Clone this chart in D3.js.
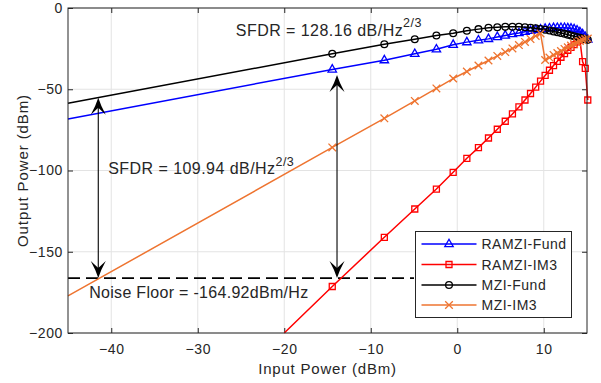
<!DOCTYPE html>
<html>
<head>
<meta charset="utf-8">
<script src="https://cdn.jsdelivr.net/npm/d3@7"></script>
<style>
  html, body { margin: 0; padding: 0; background: #ffffff; }
  svg { display: block; }
  text { font-family: "Liberation Sans", Arial, Helvetica, sans-serif; fill: #262626; }
</style>
</head>
<body>
<svg id="chart" width="601" height="383"></svg>
<script>
// ---------------- data ----------------
const xTicks = [-40, -30, -20, -10, 0, 10];
const yTicks = [0, -50, -100, -150, -200];
const xDomain = [-45, 15];
const yDomain = [-200, 0];

// input power samples where markers are drawn (dBm)
const inputPower = [-14.45, -8.43, -4.91, -2.41, -0.47, 1.11, 2.45, 3.61, 4.63, 5.55,
  6.38, 7.13, 7.83, 8.47, 9.07, 9.63, 10.16, 10.66, 11.13, 11.57,
  11.99, 12.40, 12.78, 13.15, 13.51, 13.85, 14.18, 14.49, 14.80, 15.09];

const ramziFund = [-37.8, -32.1, -28.2, -25.4, -22.6, -21.0, -19.9, -19.0, -17.8, -16.9,
  -16.0, -15.4, -14.6, -14.0, -13.5, -13.1, -12.7, -12.5, -12.3, -12.2,
  -12.2, -12.2, -12.4, -12.6, -13.0, -13.7, -14.8, -16.1, -17.7, -19.4];

const ramziIM3 = [-171.4, -141.1, -123.7, -111.4, -101.1, -92.5, -85.9, -80.0, -74.6, -69.7,
  -65.2, -60.9, -56.6, -52.6, -48.7, -45.0, -41.5, -38.3, -35.4, -32.8,
  -30.3, -28.1, -26.0, -24.2, -22.5, -20.9, -19.7, -33.0, -37.1, -56.6];

const mziFund = [-28.2, -22.3, -19.2, -16.9, -15.5, -14.0, -13.0, -12.2, -11.8, -11.6,
  -11.5, -11.6, -11.8, -12.1, -12.5, -12.9, -13.4, -13.9, -14.4, -14.9,
  -15.4, -15.9, -16.4, -16.9, -17.4, -17.8, -18.3, -18.8, -19.2, -19.6];

const mziIM3 = [-85.8, -67.9, -57.2, -49.5, -43.4, -39.1, -35.4, -32.3, -29.5, -27.1,
  -24.9, -22.8, -20.9, -19.1, -17.2, -15.7, -32.0, -30.5, -28.9, -27.7,
  -26.5, -25.2, -24.2, -23.1, -22.2, -21.2, -20.3, -19.7, -19.1, -18.8];

// first point of each line (drawn without marker)
const seriesNames = ["RAMZI-Fund", "RAMZI-IM3", "MZI-Fund", "MZI-IM3"];
const seriesColors = ["#0000ff", "#ff0000", "#000000", "#ee7430"];
const seriesMarkers = ["triangle", "square", "circle", "cross"];
const lineStartX = [-45, -20, -45, -45];
const lineStartY = [-68.3, -200, -58.6, -177.2];

// annotations
const noiseFloor = -166.2;
const noiseFloorExtent = [-45, -5];
const arrowX = [-41.5, -13.9];
const arrowTopY = [-55.2, -41.2];
const sfdrLabels = ["SFDR = 109.94 dB/Hz", "SFDR = 128.16 dB/Hz"];
const sfdrLabelX = [-40.35, -25.6];
const sfdrLabelY = [-102.3, -17.0];
const noiseLabel = "Noise Floor = -164.92dBm/Hz";
const noiseLabelPos = [-42.55, -178.6];

// ---------------- drawing ----------------
const svg = d3.select("#chart");
svg.append("rect").attr("width", 601).attr("height", 383).attr("fill", "#fff");

const x = d3.scaleLinear().domain(xDomain).range([68, 587]);
const y = d3.scaleLinear().domain(yDomain).range([333, 8]);

// grid
const grid = svg.append("g");
grid.selectAll("line.gx").data(xTicks).join("line")
  .attr("x1", d => x(d)).attr("x2", d => x(d))
  .attr("y1", y(yDomain[0])).attr("y2", y(yDomain[1]))
  .attr("stroke", "#e3e3e3").attr("stroke-width", 1);
grid.selectAll("line.gy").data(yTicks).join("line")
  .attr("y1", d => y(d)).attr("y2", d => y(d))
  .attr("x1", x(xDomain[0])).attr("x2", x(xDomain[1]))
  .attr("stroke", "#e3e3e3").attr("stroke-width", 1);

// axes
function styleAxis(g) {
  g.select(".domain").remove();
  g.selectAll(".tick line").attr("stroke", "#262626");
  g.selectAll(".tick text").attr("fill", "#262626")
    .style("font-size", "14px").style("letter-spacing", "0.6px")
    .style("font-family", "'Liberation Sans', Arial, sans-serif");
}
svg.append("g").attr("transform", `translate(0,${y(yDomain[0])})`)
  .call(d3.axisBottom(x).tickValues(xTicks).tickSizeInner(-5).tickSizeOuter(0).tickPadding(11).tickFormat(d3.format("d")))
  .call(styleAxis);
svg.append("g").attr("transform", `translate(0,${y(yDomain[1])})`)
  .call(d3.axisTop(x).tickValues(xTicks).tickSizeInner(-5).tickSizeOuter(0).tickFormat(""))
  .call(styleAxis);
svg.append("g").attr("transform", `translate(${x(xDomain[0])},0)`)
  .call(d3.axisLeft(y).tickValues(yTicks).tickSizeInner(-5).tickSizeOuter(0).tickPadding(5).tickFormat(d3.format("d")))
  .call(styleAxis);
svg.append("g").attr("transform", `translate(${x(xDomain[1])},0)`)
  .call(d3.axisRight(y).tickValues(yTicks).tickSizeInner(-5).tickSizeOuter(0).tickFormat(""))
  .call(styleAxis);

// noise floor line
svg.append("line")
  .attr("x1", x(noiseFloorExtent[0])).attr("x2", x(noiseFloorExtent[1]))
  .attr("y1", y(noiseFloor)).attr("y2", y(noiseFloor))
  .attr("stroke", "#000").attr("stroke-width", 1.8).attr("stroke-dasharray", "12,6");

// markers
function markerPath(type) {
  switch (type) {
    case "triangle": return "M0,-4.8L4.2,2.6L-4.2,2.6Z";
    case "square": return "M-3,-3H3V3H-3Z";
    case "circle": return d3.symbol(d3.symbolCircle, 36)();
    case "cross": return "M-3.8,-3.8L3.8,3.8M-3.8,3.8L3.8,-3.8";
  }
}

const seriesValues = [ramziFund, ramziIM3, mziFund, mziIM3];
const line = d3.line().x(d => x(d[0])).y(d => y(d[1]));

seriesValues.forEach((vals, i) => {
  const pts = [[lineStartX[i], lineStartY[i]]].concat(inputPower.map((p, j) => [p, vals[j]]));
  const g = svg.append("g");
  g.append("path").attr("d", line(pts))
    .attr("fill", "none").attr("stroke", seriesColors[i]).attr("stroke-width", 1.5)
    .attr("stroke-linejoin", "round");
  g.selectAll("path.m").data(pts.slice(1)).join("path")
    .attr("class", "m")
    .attr("d", markerPath(seriesMarkers[i]))
    .attr("transform", d => `translate(${x(d[0])},${y(d[1])})`)
    .attr("fill", "none").attr("stroke", seriesColors[i]).attr("stroke-width", 1.3);
});

// frame
svg.append("rect")
  .attr("x", x(xDomain[0])).attr("y", y(yDomain[1]))
  .attr("width", x(xDomain[1]) - x(xDomain[0])).attr("height", y(yDomain[0]) - y(yDomain[1]))
  .attr("fill", "none").attr("stroke", "#262626").attr("stroke-width", 1);

// arrows
function arrowHead(tx, ty, dir) {
  // dir = +1 pointing up, -1 pointing down
  const L = 17, W = 7.5, N = 10;
  return `M${tx},${ty} Q${tx + 2.5},${ty + dir * 8} ${tx + W},${ty + dir * L} L${tx},${ty + dir * N} L${tx - W},${ty + dir * L} Q${tx - 2.5},${ty + dir * 8} ${tx},${ty} Z`;
}
arrowX.forEach((ax, i) => {
  const px = x(ax), top = y(arrowTopY[i]), bot = y(noiseFloor);
  svg.append("line").attr("x1", px).attr("x2", px).attr("y1", top + 6).attr("y2", bot - 6)
    .attr("stroke", "#000").attr("stroke-width", 1.1);
  svg.append("path").attr("d", arrowHead(px, top, 1)).attr("fill", "#000");
  svg.append("path").attr("d", arrowHead(px, bot, -1)).attr("fill", "#000");
});

// annotation texts
sfdrLabels.forEach((t, i) => {
  const tx = svg.append("text")
    .attr("x", x(sfdrLabelX[i])).attr("y", y(sfdrLabelY[i]))
    .style("font-size", "16px").style("letter-spacing", "0.45px");
  tx.append("tspan").text(t);
  tx.append("tspan").attr("dy", -8.5).style("font-size", "12.5px").text("2/3");
});
svg.append("text")
  .attr("x", x(noiseLabelPos[0])).attr("y", y(noiseLabelPos[1]))
  .style("font-size", "16px").style("letter-spacing", "0.3px")
  .text(noiseLabel);

// axis labels
svg.append("text")
  .attr("x", (x(xDomain[0]) + x(xDomain[1])) / 2).attr("y", 374)
  .attr("text-anchor", "middle")
  .style("font-size", "15px").style("letter-spacing", "0.8px")
  .text("Input Power (dBm)");
svg.append("text")
  .attr("transform", `translate(28,${(y(yDomain[0]) + y(yDomain[1])) / 2}) rotate(-90)`)
  .attr("text-anchor", "middle")
  .style("font-size", "15px").style("letter-spacing", "0.9px")
  .text("Output Power (dBm)");

// legend
const lg = svg.append("g");
lg.append("rect").attr("x", 415.5).attr("y", 231.5).attr("width", 156).attr("height", 86)
  .attr("fill", "#fff").attr("stroke", "#262626").attr("stroke-width", 1);
const legendY = [244, 264.5, 285, 305];
seriesNames.forEach((name, i) => {
  const yy = legendY[i];
  lg.append("line").attr("x1", 421.5).attr("x2", 476.5).attr("y1", yy).attr("y2", yy)
    .attr("stroke", seriesColors[i]).attr("stroke-width", 1.5);
  lg.append("path").attr("d", markerPath(seriesMarkers[i]))
    .attr("transform", `translate(449,${yy})`)
    .attr("fill", "none").attr("stroke", seriesColors[i]).attr("stroke-width", 1.3);
  lg.append("text").attr("x", 481.5).attr("y", yy).attr("dy", "0.36em")
    .style("font-size", "14px").style("letter-spacing", "0.5px")
    .text(name);
});
</script>
</body>
</html>
